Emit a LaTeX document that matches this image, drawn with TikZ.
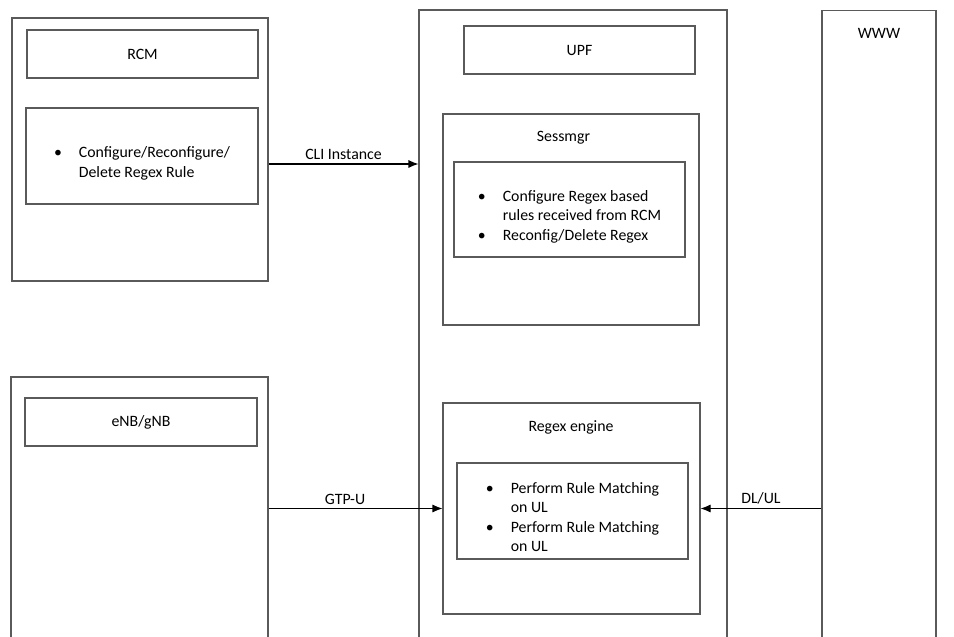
\documentclass[tikz,border=0pt]{standalone}
\usepackage{fontspec}
\setmainfont{Carlito}
\usetikzlibrary{arrows.meta, positioning, calc}
\definecolor{boxline}{HTML}{5A5A5A}
\tikzset{
  outer/.style   ={rectangle, draw=boxline, line width=0.6pt, inner sep=0pt},
  titlebox/.style={rectangle, draw=boxline, line width=0.6pt, minimum width=4.62cm,
                   minimum height=0.96cm, align=center, font=\fontsize{9}{11}\selectfont},
  rulebox/.style ={rectangle, draw=boxline, line width=0.6pt, minimum width=4.62cm,
                   minimum height=1.92cm, inner ysep=0pt, align=center,
                   font=\fontsize{9}{11}\selectfont},
  lbl/.style     ={font=\fontsize{9}{11}\selectfont, inner sep=2pt},
  flow/.style    ={-{Latex[length=2mm, width=1.6mm]}, line width=0.6pt},
}
% bullet list, set a little below the middle of its box
\newcommand{\bul}[1]{\raisebox{0pt}[\dimexpr\height+0.30cm][\depth]{%
  \begin{tabular}{@{}l@{\hspace{0.34cm}}l@{}}#1\end{tabular}}}

\begin{document}
\begin{tikzpicture}
  \useasboundingbox (0,0) rectangle (19.08,-12.74);
  \clip (0,0) rectangle (19.08,-12.74);

  % left column
  \node[outer, minimum width=5.12cm, minimum height=5.26cm] (rcm) at (2.80,-2.99) {};
  \node[titlebox] (rcmtitle) at (2.85,-1.08) {RCM};
  \node[rulebox, minimum width=4.64cm] (rcmrule) at (2.84,-3.12)
    {\bul{\textbullet & Configure/Reconfigure/\\ & Delete Regex Rule}};

  \node[outer, minimum width=5.14cm, minimum height=5.66cm] (enb) at (2.79,-10.37) {};
  \node[titlebox, minimum width=4.64cm] (enbtitle) at (2.82,-8.44) {eNB/gNB};

  % UPF
  \node[outer, minimum width=6.16cm, minimum height=13cm] (upf) at (11.46,-6.70) {};
  \node[titlebox] (upftitle) at (11.59,-1.00) {UPF};

  \node[outer, minimum width=5.12cm, minimum height=4.22cm] (sess) at (11.42,-4.39) {};
  \node[lbl] (sesslbl) at (11.27,-2.76) {Sessmgr};
  \node[rulebox, minimum height=1.90cm] (sessrules) at (11.39,-4.19)
    {\bul{\textbullet & Configure Regex based\\ & rules received from RCM\\ \textbullet & Reconfig/Delete Regex}};

  \node[outer, minimum width=5.14cm, minimum height=4.22cm] (regex) at (11.43,-10.17) {};
  \node[lbl] (regexlbl) at (11.42,-8.54) {Regex engine};
  \node[rulebox] (regexrules) at (11.45,-10.22)
    {\bul{\textbullet & Perform Rule Matching\\ & on UL\\ \textbullet & Perform Rule Matching\\ & on UL}};

  % WWW
  \node[outer, minimum width=2.28cm, minimum height=13cm] (www) at (17.58,-6.71) {};
  \node[lbl] (wwwlbl) at (17.58,-0.66) {WWW};

  \coordinate (clilevel) at (0,-3.28);
  \draw[flow] (rcm.east |- clilevel) -- node[lbl, above]{CLI Instance} (upf.west |- clilevel);
  \draw[flow] (enb.east |- regex) -- node[lbl, above, pos=0.44]{GTP-U} (regex.west);
  \draw[flow] (www.west |- regex) -- node[lbl, above]{DL/UL} (regex.east);
\end{tikzpicture}
\end{document}
